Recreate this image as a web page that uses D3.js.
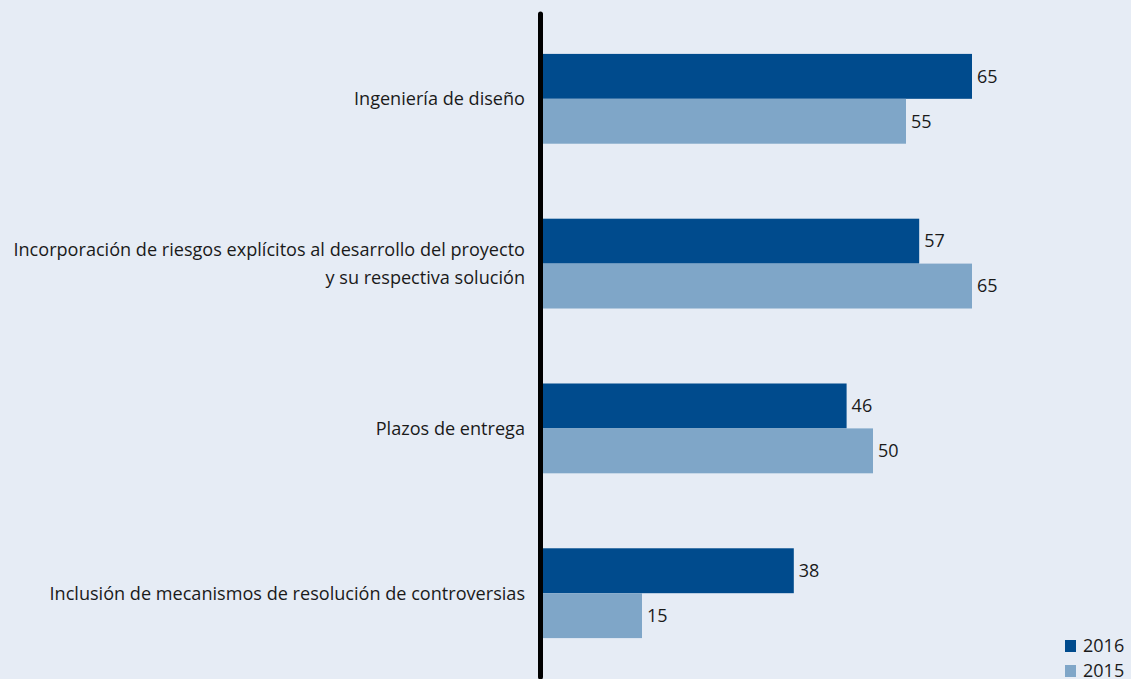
<!DOCTYPE html>
<html>
<head>
<meta charset="utf-8">
<script src="https://cdn.jsdelivr.net/npm/d3@7"></script>
<style>
  html, body { margin: 0; padding: 0; background: #e6ecf5; }
  svg { display: block; }
  text { font-family: "Open Sans", "Noto Sans", sans-serif; fill: #1a1a1a; }
</style>
</head>
<body>
<svg id="chart" width="1131" height="679"></svg>
<script>
// Categories (top to bottom); multi-line labels split on "\n"
const categories = [
  "Ingeniería de diseño",
  "Incorporación de riesgos explícitos al desarrollo del proyecto\ny su respectiva solución",
  "Plazos de entrega",
  "Inclusión de mecanismos de resolución de controversias"
];
const seriesNames = ["2016", "2015"];
const values2016 = [65, 57, 46, 38];
const values2015 = [55, 65, 50, 15];
const seriesColors = ["#004b8d", "#7fa6c8"];

const width = 1131, height = 679;
const svg = d3.select("#chart");

svg.append("rect").attr("width", width).attr("height", height).attr("fill", "#e6ecf5");

const x0 = 543;
const x = d3.scaleLinear().domain([0, 65]).range([x0, 972]);

const y = d3.scaleBand()
  .domain(categories)
  .range([16, 676])
  .paddingInner(0.455)
  .paddingOuter(0.23);

const ySub = d3.scaleBand().domain(seriesNames).range([0, y.bandwidth()]);

const data = categories.map((c, i) => ({
  cat: c,
  vals: [
    { s: "2016", v: values2016[i] },
    { s: "2015", v: values2015[i] }
  ]
}));

const groups = svg.append("g").selectAll("g")
  .data(data).join("g")
  .attr("transform", d => `translate(0,${y(d.cat)})`);

groups.selectAll("rect")
  .data(d => d.vals).join("rect")
  .attr("x", x(0))
  .attr("y", d => ySub(d.s))
  .attr("width", d => x(d.v) - x(0))
  .attr("height", ySub.bandwidth())
  .attr("fill", (d, i) => seriesColors[i]);

groups.selectAll("text.val")
  .data(d => d.vals).join("text")
  .attr("class", "val")
  .attr("x", d => x(d.v) + 5)
  .attr("y", d => ySub(d.s) + ySub.bandwidth() / 2)
  .attr("dy", "0.35em")
  .attr("font-size", 18)
  .text(d => d.v);

// Category labels, right-aligned against the axis
groups.each(function(d) {
  const lines = d.cat.split("\n");
  const t = d3.select(this).append("text")
    .attr("text-anchor", "end")
    .attr("font-size", 18.1)
    .attr("y", y.bandwidth() / 2 - (lines.length - 1) * 14);
  lines.forEach((ln, i) => {
    t.append("tspan").attr("x", 525).attr("dy", i === 0 ? "0.35em" : 28).text(ln);
  });
});

// Vertical axis line
svg.append("line")
  .attr("x1", 540.5).attr("x2", 540.5)
  .attr("y1", 14).attr("y2", 677)
  .attr("stroke", "#000").attr("stroke-width", 5)
  .attr("stroke-linecap", "round");

// Legend
const legend = svg.append("g").selectAll("g")
  .data(seriesNames).join("g")
  .attr("transform", (d, i) => `translate(1065,${640 + i * 25})`);
legend.append("rect").attr("width", 11).attr("height", 12)
  .attr("fill", (d, i) => seriesColors[i]);
legend.append("text").attr("x", 18).attr("y", 6).attr("dy", "0.35em")
  .attr("font-size", 18).text(d => d);
</script>
</body>
</html>
